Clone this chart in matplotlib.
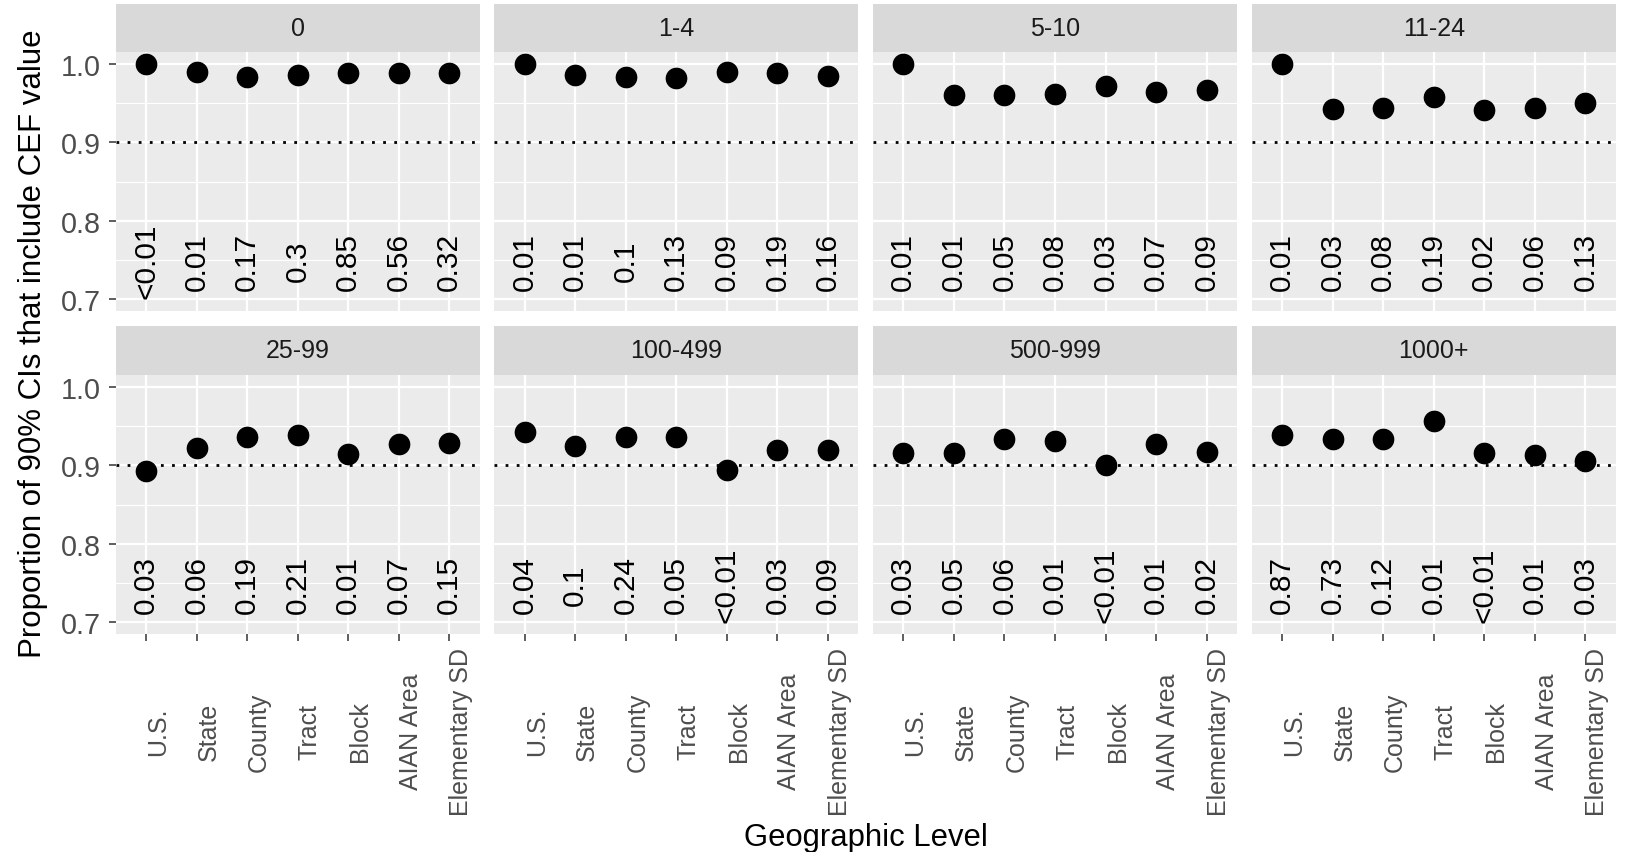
import matplotlib
matplotlib.use("Agg")
import matplotlib.pyplot as plt
from matplotlib.ticker import FixedLocator

plt.rcParams['font.family'] = ['Liberation Sans', 'DejaVu Sans']

# categories
geo_levels = ["U.S.", "State", "County", "Tract", "Block", "AIAN Area", "Elementary SD"]
size_groups = ["0", "1-4", "5-10", "11-24", "25-99", "100-499", "500-999", "1000+"]

# proportion of 90% CIs that include the CEF value, one list per size group
prop_0 = [1.000, 0.990, 0.983, 0.986, 0.988, 0.989, 0.988]
prop_1_4 = [1.000, 0.986, 0.983, 0.982, 0.990, 0.988, 0.985]
prop_5_10 = [1.000, 0.960, 0.961, 0.962, 0.972, 0.964, 0.967]
prop_11_24 = [1.000, 0.942, 0.944, 0.958, 0.941, 0.944, 0.950]
prop_25_99 = [0.893, 0.922, 0.936, 0.939, 0.914, 0.927, 0.928]
prop_100_499 = [0.942, 0.924, 0.936, 0.936, 0.894, 0.919, 0.919]
prop_500_999 = [0.916, 0.916, 0.933, 0.931, 0.900, 0.927, 0.917]
prop_1000 = [0.939, 0.933, 0.933, 0.957, 0.916, 0.913, 0.905]

# p-value labels printed at the bottom of each panel
pval_0 = ["<0.01", "0.01", "0.17", "0.3", "0.85", "0.56", "0.32"]
pval_1_4 = ["0.01", "0.01", "0.1", "0.13", "0.09", "0.19", "0.16"]
pval_5_10 = ["0.01", "0.01", "0.05", "0.08", "0.03", "0.07", "0.09"]
pval_11_24 = ["0.01", "0.03", "0.08", "0.19", "0.02", "0.06", "0.13"]
pval_25_99 = ["0.03", "0.06", "0.19", "0.21", "0.01", "0.07", "0.15"]
pval_100_499 = ["0.04", "0.1", "0.24", "0.05", "<0.01", "0.03", "0.09"]
pval_500_999 = ["0.03", "0.05", "0.06", "0.01", "<0.01", "0.01", "0.02"]
pval_1000 = ["0.87", "0.73", "0.12", "0.01", "<0.01", "0.01", "0.03"]

props = [prop_0, prop_1_4, prop_5_10, prop_11_24,
         prop_25_99, prop_100_499, prop_500_999, prop_1000]
pvals = [pval_0, pval_1_4, pval_5_10, pval_11_24,
         pval_25_99, pval_100_499, pval_500_999, pval_1000]

y_ticks = [0.7, 0.8, 0.9, 1.0]
ref_level = 0.9
label_y = 0.749

W, H = 1627, 853
fig = plt.figure(figsize=(W / 100, H / 100), dpi=100)

# layout in pixels
left0 = 115.7
pw = 364
gap = 14.67
rows = [(53.3, 311.7, 5.0), (376.0, 635.0, 327.0)]  # panel top, panel bottom, strip top

x = list(range(len(geo_levels)))

for i, grp in enumerate(size_groups):
    r, c = divmod(i, 4)
    top, bot, stop = rows[r]
    x0 = left0 + c * (pw + gap)
    ax = fig.add_axes([x0 / W, 1 - bot / H, pw / W, (bot - top) / H])
    ax.set_facecolor("#EBEBEB")
    for s in ax.spines.values():
        s.set_visible(False)
    ax.set_xlim(-0.6, len(geo_levels) - 0.4)
    ax.set_ylim(0.685, 1.015)
    ax.set_xticks(x)
    ax.set_yticks(y_ticks)
    ax.yaxis.set_minor_locator(FixedLocator([0.75, 0.85, 0.95]))
    ax.grid(True, which="major", color="white", lw=1.6)
    ax.grid(True, which="minor", axis="y", color="white", lw=0.8)
    ax.set_axisbelow(True)
    ax.tick_params(which="minor", length=0)

    ax.axhline(ref_level, color="black", lw=2.0, ls=(0, (1, 3)), zorder=2)
    ax.plot(x, props[i], "o", color="black", ms=14.6, zorder=3)
    for xi, lab in zip(x, pvals[i]):
        ax.text(xi, label_y, lab, rotation=90, ha="center", va="center",
                fontsize=21.5, color="black", zorder=4)

    if c == 0:
        ax.set_yticklabels([f"{v:.1f}" for v in y_ticks], fontsize=20.7, color="#4D4D4D")
        ax.tick_params(axis="y", length=5, width=1.1, color="#333333", pad=5.8)
    else:
        ax.tick_params(axis="y", length=0, labelleft=False)

    if r == 1:
        ax.set_xticklabels(geo_levels, rotation=90, fontsize=18, color="#4D4D4D",
                           ha="left", va="center")
        ax.tick_params(axis="x", length=5, width=1.1, color="#333333", pad=64.8)
    else:
        ax.tick_params(axis="x", length=0, labelbottom=False)

    # facet strip
    sax = fig.add_axes([x0 / W, 1 - top / H, pw / W, (top - stop) / H])
    sax.set_facecolor("#D9D9D9")
    for s in sax.spines.values():
        s.set_visible(False)
    sax.set_xticks([])
    sax.set_yticks([])
    sax.text(0.5, 0.5, grp, ha="center", va="center", fontsize=18,
             color="#1A1A1A", transform=sax.transAxes)

fig.text(33 / W, 1 - 344 / H, "Proportion of 90% CIs that include CEF value",
         rotation=90, ha="center", va="center", fontsize=22.5)
fig.text(865.7 / W, 1 - 838 / H, "Geographic Level", ha="center", va="center",
         fontsize=22.3)

fig.savefig("out.png", dpi=100)
